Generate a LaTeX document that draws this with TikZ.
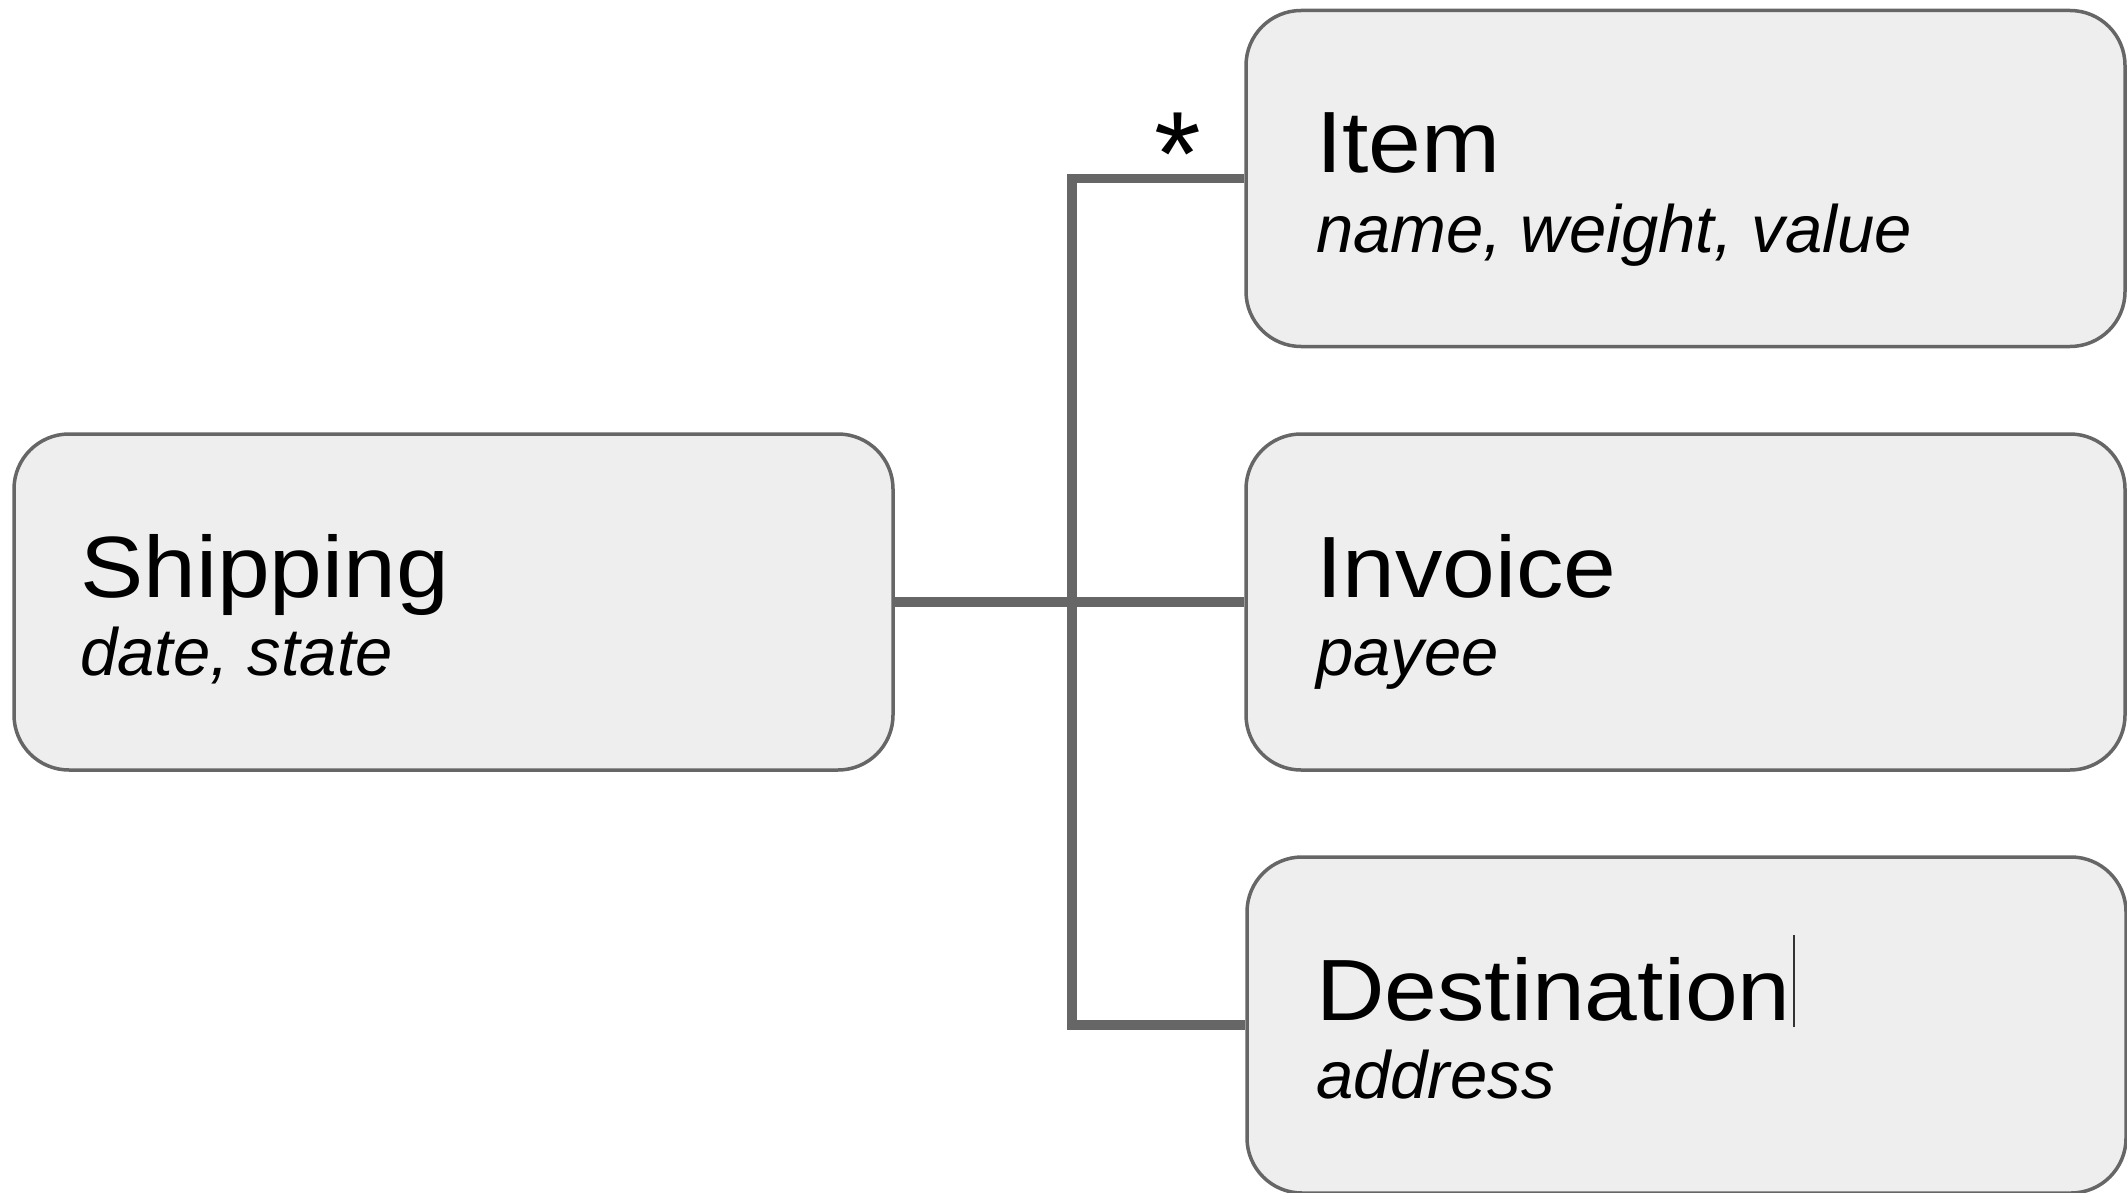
\documentclass[tikz,border=0pt]{standalone}
\usepackage{fontspec}
\setmainfont{Liberation Sans}
\newfontfamily\titlefont{Liberation Sans}[FakeStretch=1.09]
\definecolor{boxfill}{HTML}{EEEEEE}
\definecolor{edge}{HTML}{666666}
\begin{document}
\begin{tikzpicture}[x=1pt,y=-1pt,
  entity/.style={draw=edge, line width=3.5pt, fill=boxfill, rounded corners=55pt,
    minimum width=879pt, minimum height=336pt, inner sep=0pt},
  title/.style={anchor=base west, inner sep=0pt, font=\titlefont\fontsize{87}{100}\selectfont},
  attrs/.style={anchor=base west, inner sep=0pt, font=\fontsize{67}{80}\selectfont\itshape},
  link/.style={draw=edge, line width=9.5pt}]
\useasboundingbox (0,0) rectangle (2127,1193);

% entity boxes
\node[entity] (ship) at (453.5,602) {};
\node[entity] (item) at (1685.5,178.5) {};
\node[entity] (inv)  at (1685.5,602) {};
\node[entity] (dest) at (1686.5,1025) {};

% names and attributes
\node[title] (shipT) at (80,597) {Shipping};
\node[attrs] (shipA) at (80,675) {date, state};
\node[title] (itemT) at (1316,173) {Item};
\node[attrs] (itemA) at (1316,252) {name, weight, value};
\node[title] (invT) at (1316,597) {Invoice};
\node[attrs] (invA) at (1316,675) {payee};
\node[title] (destT) at (1316,1020) {Destination};
\node[attrs] (destA) at (1316,1098) {address};

% junction of the connector tree
\coordinate (j) at (1072,602);

% connectors
\draw[link] (ship.east) -- (inv.west);
\draw[link] (item.west) -- (item.west -| j) -- (dest.west -| j) -- (dest.west);

% multiplicity
\node[inner sep=0pt, anchor=base, font=\fontsize{120}{120}\selectfont] (many) at (1178,196) {*};

% text cursor after the last name
\draw[line width=1.5pt, black!80] ([xshift=3pt,yshift=-7pt]destT.base east) -- ([xshift=3pt,yshift=85pt]destT.base east);
\end{tikzpicture}
\end{document}
